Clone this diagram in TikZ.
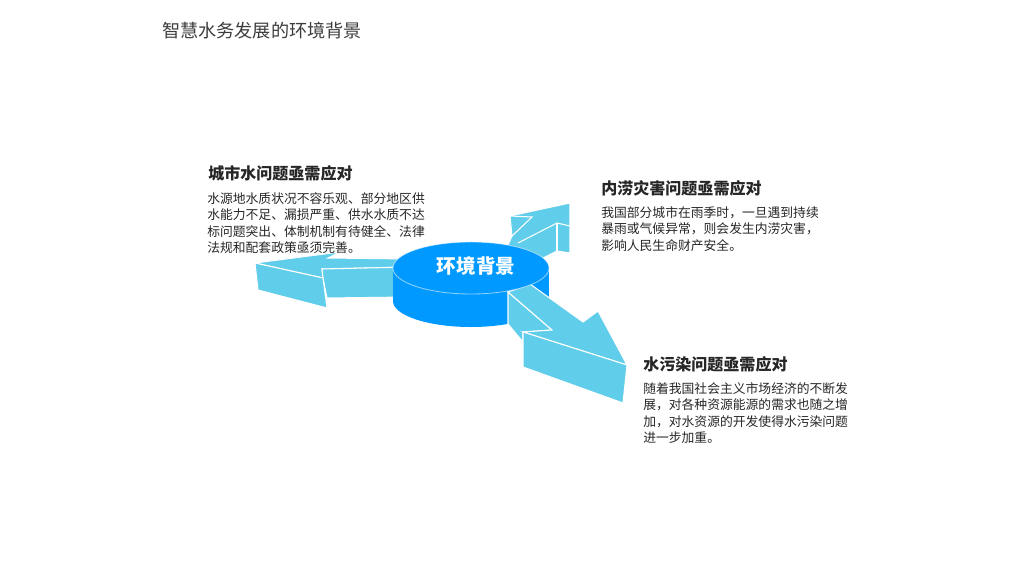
\documentclass[tikz,border=0pt]{standalone}
\usepackage{fontspec}
\newfontfamily\cjk{Noto Sans CJK SC}
\definecolor{arrowc}{HTML}{60CDEA}
\definecolor{cylc}{HTML}{0099FF}
\definecolor{txtc}{HTML}{262626}
\tikzset{
  face/.style={fill=arrowc, draw=white, line width=0.75pt, line join=miter},
  edge/.style={draw=white, line width=0.75pt},
  title/.style={anchor=west, inner sep=0pt, text=txtc!90!white, font=\cjk\fontsize{12.9}{15}\selectfont},
  head/.style={anchor=west, inner sep=0pt, text=txtc, font=\cjk\bfseries\fontsize{11.4}{14}\selectfont},
  body/.style={anchor=west, inner sep=0pt, text=txtc, align=left, font=\cjk\fontsize{9.1}{11.6}\selectfont},
}
\begin{document}
\begin{tikzpicture}[x=0.025cm,y=-0.025cm]
\useasboundingbox (0,0) rectangle (1024,576);
% left arrow (behind cylinder)
\path[face] (255,263) -- (340,252) -- (328,258) -- (410,259) -- (410,267) -- (322,269) -- (323,278) -- cycle;
\path[face] (322,269) -- (410,267) -- (410,297) -- (327,298) -- (323,278) -- cycle;
\path[face] (255,263) -- (323,278) -- (327,308) -- (258,290) -- cycle;
% upper-right arrow (behind cylinder)
\path[face] (510,216) -- (570,203) -- (570,253) -- (557,251) -- (535,262) -- (505,252) -- (512,236) -- cycle;
\draw[edge] (510,216) -- (532,217) -- (512,236);
\draw[edge] (570,226) -- (557,223) -- (518,243);
\draw[edge] (557,223) -- (557,251);
% cylinder body
\fill[cylc] (471,301) ellipse [x radius=1.95cm, y radius=0.65cm];
\fill[cylc] (393,268) rectangle (549,301);
% lower-right arrow (in front of cylinder side)
\path[face] (508,292) -- (552,330) -- (523,332) -- (523,342) -- (508,324) -- cycle;
\path[face] (508,292) -- (530,284) -- (583,322) -- (598,311) -- (627,365) -- (523,332) -- (552,330) -- cycle;
\path[face] (523,332) -- (627,365) -- (623,403) -- (523,367) -- cycle;
% cylinder top
\fill[cylc] (471,268) ellipse [x radius=1.95cm, y radius=0.65cm];
\draw[white, opacity=0.55, line width=0.6pt] (471,268) ellipse [x radius=1.95cm, y radius=0.65cm];
\node[anchor=center, inner sep=0pt, text=white, font=\cjk\bfseries\fontsize{13.9}{16}\selectfont] (center) at (476,266) {环境背景};
% texts
\node[title] (ttl) at (162,31) {智慧水务发展的环境背景};
\node[head] (h1) at (208,173) {城市水问题亟需应对};
\node[body] (b1) at (207,223) {水源地水质状况不容乐观、部分地区供\\水能力不足、漏损严重、供水水质不达\\标问题突出、体制机制有待健全、法律\\法规和配套政策亟须完善。};
\node[head] (h2) at (601,188) {内涝灾害问题亟需应对};
\node[body] (b2) at (601,229) {我国部分城市在雨季时，一旦遇到持续\\暴雨或气候异常，则会发生内涝灾害，\\影响人民生命财产安全。};
\node[head] (h3) at (643,364) {水污染问题亟需应对};
\node[body] (b3) at (643,413) {随着我国社会主义市场经济的不断发\\展，对各种资源能源的需求也随之增\\加，对水资源的开发使得水污染问题\\进一步加重。};
\end{tikzpicture}
\end{document}
